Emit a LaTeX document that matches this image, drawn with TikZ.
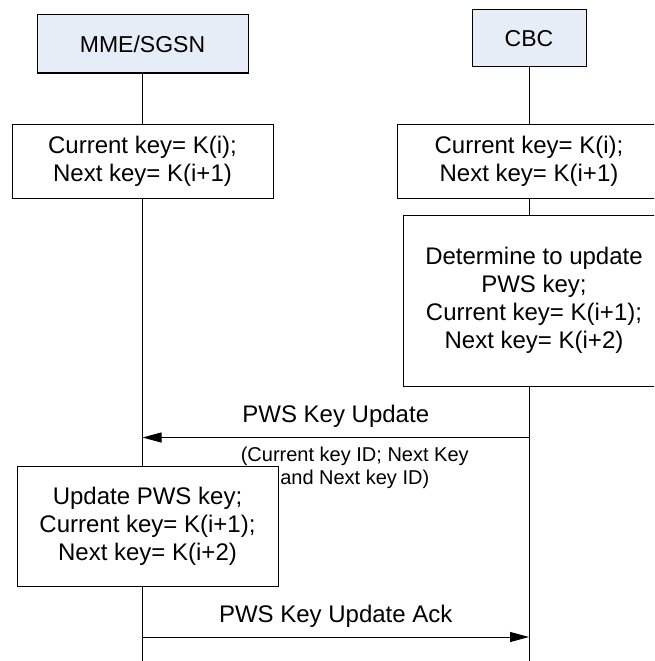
\documentclass[tikz,border=0pt]{standalone}
\usepackage{fontspec}
\setmainfont{Liberation Sans}
\usetikzlibrary{arrows.meta}
\definecolor{headblue}{HTML}{E7EDF7}

\begin{document}
\begin{tikzpicture}[x=1pt,y=-1pt,>={Triangle[length=19pt,width=10pt]},line width=1pt,
    entity/.style={draw,fill=headblue,inner sep=0pt,font=\fontsize{23}{27}\selectfont},
    keybox/.style={draw,fill=white,inner sep=0pt,align=center,font=\fontsize{24}{28}\selectfont},
    msglabel/.style={font=\fontsize{24}{28}\selectfont,anchor=base,yshift=15pt},
    sublabel/.style={font=\fontsize{20}{23}\selectfont,align=center,anchor=north,inner sep=0pt,yshift=-9.5pt,xshift=19pt}]
    \clip (0,0) rectangle (654,661);
    % entities
    \node[entity,minimum width=211pt,minimum height=58pt] (mme) at (142.5,44) {MME/SGSN};
    \node[entity,minimum width=114pt,minimum height=57pt] (cbc) at (529,38.5) {CBC};
    % key state boxes
    \node[keybox,minimum width=261pt,minimum height=74pt] (mmekey) at (142.5,161) {Current key= K(i);\\Next key= K(i+1)};
    \node[keybox,minimum width=264pt,minimum height=74pt] (cbckey) at (529,161) {Current key= K(i);\\Next key= K(i+1)};
    \node[keybox,minimum width=262pt,minimum height=171pt] (cbcdet) at (534,300.5) {Determine to update\\PWS key;\\Current key= K(i+1);\\Next key= K(i+2)};
    \node[keybox,minimum width=261pt,minimum height=120pt] (mmeupd) at (147.5,526) {Update PWS key;\\Current key= K(i+1);\\Next key= K(i+2)};
    \coordinate (mmeend) at (142.5,661);
    \coordinate (cbcend) at (529,661);
    % lifelines
    \draw (mme.south) -- (mmekey.north);
    \draw (mmekey.south) -- (mmekey.south |- mmeupd.north);
    \draw (mmekey.south |- mmeupd.south) -- (mmeend);
    \draw (cbc.south) -- (cbckey.north);
    \draw (cbckey.south) -- (cbckey.south |- cbcdet.north);
    \draw (cbckey.south |- cbcdet.south) -- (cbcend);
    % messages
    \coordinate (updR) at (529,437.5);
    \coordinate (updL) at (142.5,437.5);
    \coordinate (ackL) at (142.5,637);
    \coordinate (ackR) at (529,637);
    \draw[->] (updR) -- node[msglabel] {PWS Key Update}
        node[sublabel] {(Current key ID; Next Key\\and Next key ID)} (updL);
    \draw[->] (ackL) -- node[msglabel] {PWS Key Update Ack} (ackR);
\end{tikzpicture}
\end{document}
